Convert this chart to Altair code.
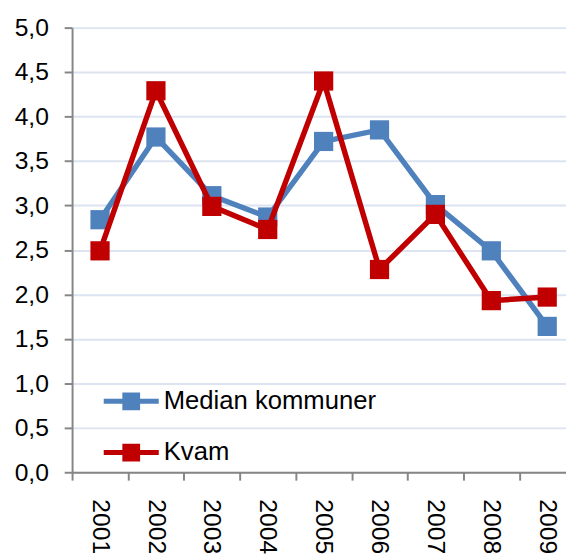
import altair as alt
import pandas as pd

years = ["2001", "2002", "2003", "2004", "2005", "2006", "2007", "2008", "2009"]
median_kommuner = [2.84, 3.77, 3.11, 2.87, 3.72, 3.85, 3.01, 2.49, 1.64]
kvam = [2.49, 4.29, 2.99, 2.73, 4.40, 2.28, 2.90, 1.93, 1.97]
series_names = ["Median kommuner", "Kvam"]
series_colors = ["#4f81bd", "#c00000"]
y_ticks = [0.0, 0.5, 1.0, 1.5, 2.0, 2.5, 3.0, 3.5, 4.0, 4.5, 5.0]

rows = []
for name, vals in zip(series_names, [median_kommuner, kvam]):
    for i, (yr, v) in enumerate(zip(years, vals)):
        rows.append({"year": yr, "pos": i + 0.5, "value": v, "series": name})
df = pd.DataFrame(rows)

FONT = "Liberation Sans"
GRAY = "#868686"
PLOT_W = 501
STEP = 56.7  # pixel width of one year category

legend_path = "M-3.1,-0.28H3.1V0.28H-3.1Z M-1,-1H1V1H-1Z"

legend = alt.Legend(
    title=None,
    orient="none",
    legendX=47,
    legendY=366,
    symbolType=legend_path,
    symbolSize=324,
    symbolStrokeWidth=0,
    symbolOpacity=1,
    labelFont=FONT,
    labelFontSize=26,
    labelColor="#000000",
    labelOffset=20,
    rowPadding=26,
    padding=0,
    labelLimit=400,
)

color = alt.Color(
    "series:N",
    scale=alt.Scale(domain=series_names, range=series_colors),
    legend=legend,
    sort=series_names,
)

years_js = "[" + ",".join("'" + y + "'" for y in years) + "]"

x = alt.X(
    "pos:Q",
    scale=alt.Scale(domain=[0, PLOT_W / STEP], nice=False, zero=False),
    axis=alt.Axis(
        title=None,
        grid=False,
        values=list(range(len(years))),
        labelExpr=years_js + "[datum.value]",
        labelOffset=STEP / 2,
        labelAngle=90,
        labelAlign="left",
        labelBaseline="middle",
        labelPadding=19,
        labelFont=FONT,
        labelFontSize=25,
        labelColor="#000000",
        labelOverlap=False,
        labelFlush=False,
        labelBound=False,
        domainColor=GRAY,
        domainWidth=2,
        tickColor=GRAY,
        tickWidth=2,
        tickSize=8,
    ),
)

y = alt.Y(
    "value:Q",
    scale=alt.Scale(domain=[0, 5], nice=False, zero=True),
    axis=alt.Axis(
        title=None,
        values=y_ticks,
        labelExpr="replace(format(datum.value, '.1f'), '.', ',')",
        labelFont=FONT,
        labelFontSize=25,
        labelColor="#000000",
        labelPadding=16,
        grid=True,
        gridColor="#dbe4f0",
        gridWidth=2,
        domainColor=GRAY,
        domainWidth=2,
        tickColor=GRAY,
        tickWidth=2,
        tickSize=8,
    ),
)

layers = []
for name in series_names:
    base = alt.Chart(df).transform_filter(alt.datum.series == name)
    layers.append(base.mark_line(strokeWidth=5.5).encode(x=x, y=y, color=color))
    layers.append(
        base.mark_point(shape="square", filled=True, size=380, opacity=1, strokeWidth=0).encode(
            x=x, y=y, color=color
        )
    )

chart = (
    alt.layer(*layers)
    .properties(
        width=PLOT_W,
        height=451,
        autosize=alt.AutoSizeParams(type="none"),
        padding={"left": 65, "top": 16, "right": 0, "bottom": 79},
        background="#ffffff",
    )
    .configure_view(stroke=None)
)

chart.save("out.html", embed_options={"renderer": "svg", "actions": False})
